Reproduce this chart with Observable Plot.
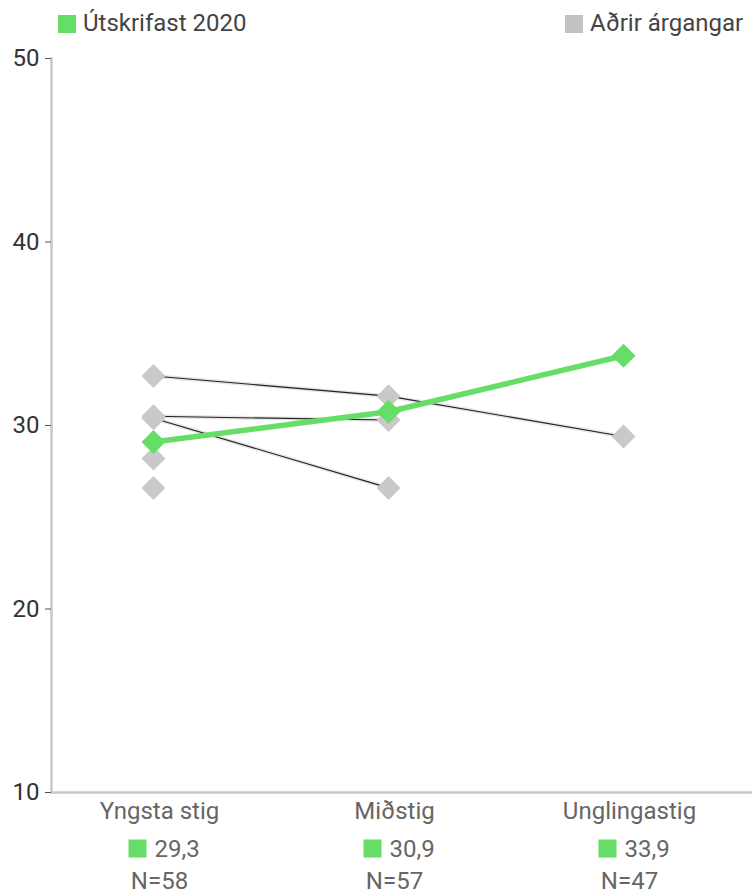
<!DOCTYPE html>
<html>
<head>
<meta charset="utf-8">
<script src="https://cdn.jsdelivr.net/npm/d3@7"></script>
<script src="https://cdn.jsdelivr.net/npm/@observablehq/plot@0.6"></script>
<style>
  body { margin: 0; background: #fff; font-family: Roboto, "Noto Sans", sans-serif; }
  #legend { position: relative; width: 756px; height: 45px; }
  .sw { position: absolute; top: 15px; width: 18px; height: 18px; }
  .lt { position: absolute; top: 8px; font-size: 24px; line-height: 30px; color: #444; white-space: nowrap; }
</style>
</head>
<body>
<div id="legend">
  <div class="sw" style="left:58px;background:#66dd66"></div>
  <div class="lt" style="left:83px">Útskrifast 2020</div>
  <div class="sw" style="left:565px;background:#c2c2c2"></div>
  <div class="lt" style="left:590px">Aðrir árgangar</div>
</div>
<div id="chart"></div>
<script>
const categories = ["Yngsta stig", "Miðstig", "Unglingastig"];
const yTicks = [10, 20, 30, 40, 50];
// Other cohorts: values at [Yngsta stig, Miðstig, Unglingastig]
const cohortA = [32.7, 31.6, 29.4];
const cohortB = [30.5, 30.3, null];
const cohortC = [30.4, 26.6, null];
const cohortD = [28.2, null, null];
const cohortE = [26.6, null, null];
// Útskrifast 2020
const cohort2020 = [29.1, 30.75, 33.8];
const labels2020 = ["29,3", "30,9", "33,9"];
const nLabels = ["N=58", "N=57", "N=47"];

const others = [cohortA, cohortB, cohortC, cohortD, cohortE].flatMap((vals, i) =>
  vals.map((v, j) => ({cohort: i, stage: categories[j], value: v})).filter(d => d.value != null));
const main = cohort2020.map((v, j) => ({stage: categories[j], value: v}));
const bottom = categories.map((c, j) => ({stage: c, val: labels2020[j], n: nLabels[j]}));

const font = "Roboto, 'Noto Sans', sans-serif";
const plot = Plot.plot({
  width: 756,
  height: 848,
  marginTop: 13,
  marginBottom: 101,
  marginLeft: 51,
  marginRight: 4,
  style: {fontFamily: font, background: "#fff", overflow: "visible"},
  x: {type: "point", domain: categories, range: [153, 623], padding: 0, axis: null},
  y: {domain: [10, 50], axis: null},
  marks: [
    Plot.ruleY([10], {stroke: "#c8c8c8", strokeWidth: 2.5}),
    Plot.frame({anchor: "left", stroke: "#c8c8c8", strokeWidth: 2.5}),
    Plot.axisY(yTicks, {label: null, tickSize: 6, tickPadding: 6, stroke: "#555", fill: "#333", fontSize: 24, fontFamily: font}),
    Plot.line(others, {x: "stage", y: "value", z: "cohort", stroke: "#e6e6e6", strokeWidth: 4}),
    Plot.line(others, {x: "stage", y: "value", z: "cohort", stroke: "#222", strokeWidth: 1.1}),
    Plot.dot(others, {x: "stage", y: "value", symbol: "diamond2", r: 10.8, fill: "#c9c9c9", stroke: "none"}),
    Plot.line(main, {x: "stage", y: "value", stroke: "#66dd66", strokeWidth: 5.5}),
    Plot.dot(main, {x: "stage", y: "value", symbol: "diamond2", r: 10.8, fill: "#66dd66", stroke: "none"}),
    Plot.text(bottom, {x: "stage", y: () => 10, text: "stage", dx: 6, dy: 26, lineAnchor: "bottom", fontSize: 24, fill: "#666"}),
    Plot.dot(bottom, {x: "stage", y: () => 10, dx: -16, dy: 56, symbol: "square", r: 10.16, fill: "#66dd66", stroke: "none"}),
    Plot.text(bottom, {x: "stage", y: () => 10, text: "val", dx: 1, dy: 64, lineAnchor: "bottom", textAnchor: "start", fontSize: 24, fill: "#666"}),
    Plot.text(bottom, {x: "stage", y: () => 10, text: "n", dx: 6, dy: 96, lineAnchor: "bottom", fontSize: 24, fill: "#666"})
  ]
});
document.getElementById("chart").appendChild(plot);
</script>
</body>
</html>
